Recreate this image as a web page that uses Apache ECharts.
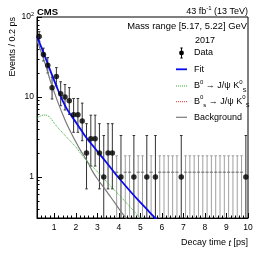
<!DOCTYPE html>
<html><head><meta charset="utf-8">
<script src="https://cdn.jsdelivr.net/npm/echarts@6/dist/echarts.min.js"></script>
<style>html,body{margin:0;padding:0;background:#fff}#c{width:266px;height:255px}</style>
</head><body><div id="c"></div>
<script>
// ---- data ----
const binCenters = [0.3,0.5,0.7,0.9,1.1,1.3,1.5,1.7,1.9,2.1,2.3,2.5,2.7,2.9,3.1,3.3,3.5,3.7,3.9,4.1,4.3,4.5,4.7,4.9,5.1,5.3,5.5,5.7,5.9,6.1,6.3,6.5,6.7,6.9,7.1,7.3,7.5,7.7,7.9,8.1,8.3,8.5,8.7,8.9,9.1,9.3,9.5,9.7,9.9];
const counts = [57,34,25,13,18,11,10,9,6,6,5,2,3,3,2,1,2,2,0,1,0,0,1,0,0,1,0,1,0,0,0,0,0,1,0,0,0,0,0,0,0,0,0,0,0,0,0,0,1];
const intervalLow  = {0:0, 1:0.17, 2:0.71, 3:1.37, 5:2.84, 6:3.62, 9:6.06, 10:6.89, 11:7.78, 13:9.44, 18:13.8, 25:20.0, 34:28.2, 57:49.6};
const intervalHigh = {0:1.84, 1:3.30, 2:4.64, 3:5.92, 5:8.38, 6:9.58, 9:13.1, 10:14.3, 11:15.5, 13:17.7, 18:23.3, 25:31.1, 34:40.8, 57:65.6};
const zeroMark = 1.148;

const fitX = [0.2,0.4,0.6,0.8,1.0,1.2,1.4,1.6,1.8,2.0,2.2,2.4,2.6,2.8,3.0,3.4,3.8,4.2,4.6,5.0,5.4,5.8,6.2];
const fitY = [57,42,30.5,22,16,11.8,8.9,7.0,5.8,4.85,4.05,3.35,2.85,2.45,2.1,1.55,1.13,0.84,0.63,0.48,0.37,0.285,0.22];

const b0X = [0.2,0.4,0.6,0.8,1.0,1.2,1.4,1.6,1.8,2.0,2.4,2.8,3.2,3.6,4.0,4.4,4.8,5.2,5.6];
const b0Y = [5.4,5.85,5.95,5.55,4.7,4.05,3.55,3.1,2.72,2.38,1.72,1.33,1.02,0.78,0.6,0.46,0.35,0.27,0.21];

const bgX = [0.2,0.4,0.6,0.8,1.0,1.2,1.4,1.6,1.8,2.0,2.2,2.4,2.6,2.8,3.0,3.4,3.8,4.2,4.6,5.0];
const bgY = [51,36,25,16.5,11.5,8.2,6.0,4.5,3.5,2.75,2.2,1.8,1.45,1.15,0.95,0.68,0.48,0.34,0.25,0.19];

const xTickLabels = [1,2,3,4,5,6,7,8,9,10];
const yTickLabels = [1,10,100];
const yMinorTicks = [0.4,0.5,0.6,0.7,0.8,0.9,2,3,4,5,6,7,8,9,20,30,40,50,60,70,80,90];

const xMin = 0.2, xMax = 10, yMin = 0.307, yMax = 100;
const FONT = '"Liberation Sans", Arial, sans-serif';

const xMinorTicks = [];
for (let k = 2; k < 50; k++) { if (k % 5 !== 0) xMinorTicks.push(+(k * 0.2).toFixed(1)); }

const chart = echarts.init(document.getElementById('c'), null, {renderer: 'canvas'});

function errRender(params, api) {
  const i = params.dataIndex;
  const x = binCenters[i], n = counts[i];
  const loRaw = intervalLow[n], hiRaw = intervalHigh[n];
  const lo = Math.max(loRaw, yMin), hi = Math.min(hiRaw, yMax);
  const p1 = api.coord([x, lo]), p2 = api.coord([x, hi]);
  const col = n > 0 ? '#333' : '#a0a0a0';
  const ch = [
    {type: 'line', shape: {x1: p1[0], y1: p1[1], x2: p2[0], y2: p2[1]}, style: {stroke: col, lineWidth: 1}},
    {type: 'line', shape: {x1: p2[0] - 1.3, y1: p2[1], x2: p2[0] + 1.3, y2: p2[1]}, style: {stroke: col, lineWidth: 1}}
  ];
  if (loRaw > yMin) ch.push({type: 'line', shape: {x1: p1[0] - 1.3, y1: p1[1], x2: p1[0] + 1.3, y2: p1[1]}, style: {stroke: col, lineWidth: 1}});
  if (n === 0) {
    const pm = api.coord([x, zeroMark]);
    ch.push({type: 'line', shape: {x1: pm[0] - 1.6, y1: pm[1], x2: pm[0] + 1.6, y2: pm[1]}, style: {stroke: '#666', lineWidth: 1}});
  }
  return {type: 'group', children: ch};
}

const axisCommon = {
  min: xMin, max: xMax, position: 'bottom',
  axisLine: {show: true, lineStyle: {color: '#000', width: 1}},
  splitLine: {show: false}
};

const legendY = {mass: 26, year: 40.7, data: 53, fit: 69.3, b0: 86, bs: 101.7, bg: 117.3};
const symX1 = 176, symX2 = 187, txtX = 194;
const richLeg = {
  n: {fontSize: 9, fontFamily: FONT, color: '#000', lineHeight: 14},
  sup: {fontSize: 6, fontFamily: FONT, color: '#000', lineHeight: 6, verticalAlign: 'top'},
  sub: {fontSize: 6, fontFamily: FONT, color: '#000', lineHeight: 6, verticalAlign: 'bottom'}
};
function legText(y, text) {
  return {type: 'text', x: txtX, y: y, style: {text: text, rich: richLeg, textAlign: 'left', textVerticalAlign: 'middle', font: '9px ' + FONT, fill: '#000'}};
}

const option = {
  animation: false,
  backgroundColor: '#fff',
  grid: {left: 37, top: 17, width: 211, height: 201, show: true, borderColor: '#000', borderWidth: 1, backgroundColor: 'transparent'},
  xAxis: [
    Object.assign({}, axisCommon, {
      type: 'value',
      axisTick: {show: true, inside: true, length: 5, customValues: xTickLabels, lineStyle: {color: '#000'}},
      axisLabel: {show: true, customValues: xTickLabels, margin: 5, fontSize: 8.5, fontFamily: FONT, color: '#000'}
    }),
    Object.assign({}, axisCommon, {
      type: 'value',
      axisLine: {show: false},
      axisTick: {show: true, inside: true, length: 2.5, customValues: xMinorTicks, lineStyle: {color: '#000'}},
      axisLabel: {show: false}
    })
  ],
  yAxis: [
    {
      type: 'log', logBase: 10, min: yMin, max: yMax, position: 'left',
      axisLine: {show: true, lineStyle: {color: '#000'}},
      splitLine: {show: false},
      axisTick: {show: true, inside: true, length: 5, customValues: yTickLabels, lineStyle: {color: '#000'}},
      axisLabel: {
        show: true, customValues: yTickLabels, margin: 3, fontSize: 8.5, fontFamily: FONT, color: '#000',
        formatter: function (v) { return Math.abs(v - 100) < 1e-6 ? '{m|10}{s|2}' : '{m|' + Math.round(v) + '}'; },
        rich: {
          m: {fontSize: 8.5, fontFamily: FONT, color: '#000', lineHeight: 12},
          s: {fontSize: 5.5, fontFamily: FONT, color: '#000', lineHeight: 6, verticalAlign: 'top'}
        }
      }
    },
    {
      type: 'log', logBase: 10, min: yMin, max: yMax, position: 'left',
      axisLine: {show: false}, splitLine: {show: false},
      axisTick: {show: true, inside: true, length: 2.5, customValues: yMinorTicks, lineStyle: {color: '#000'}},
      axisLabel: {show: false}
    }
  ],
  series: [
    {
      type: 'custom', xAxisIndex: 0, yAxisIndex: 0, clip: true, z: 2,
      data: binCenters.map((x, i) => [x, intervalHigh[counts[i]]]),
      encode: {x: 0, y: 1},
      renderItem: errRender
    },
    {
      type: 'line', xAxisIndex: 0, yAxisIndex: 0, z: 3, showSymbol: false, smooth: 0.3, clip: true,
      data: bgX.map((x, i) => [x, bgY[i]]),
      lineStyle: {color: '#7a7a7a', width: 1.2}
    },
    {
      type: 'line', xAxisIndex: 0, yAxisIndex: 0, z: 3, showSymbol: false, smooth: 0.3, clip: true,
      data: b0X.map((x, i) => [x, b0Y[i]]),
      lineStyle: {color: '#35b035', width: 1, type: 'dotted'}
    },
    {
      type: 'line', xAxisIndex: 0, yAxisIndex: 0, z: 4, showSymbol: false, smooth: 0.3, clip: true,
      data: fitX.map((x, i) => [x, fitY[i]]),
      lineStyle: {color: '#0a0aee', width: 1.8}
    },
    {
      type: 'scatter', xAxisIndex: 0, yAxisIndex: 0, z: 5, symbol: 'circle', symbolSize: 5.5,
      data: binCenters.map((x, i) => [x, counts[i]]).filter(d => d[1] > 0),
      itemStyle: {color: '#000'}
    }
  ],
  graphic: [
    {type: 'text', x: 37, y: 12, style: {text: 'CMS', font: 'bold 9.5px ' + FONT, fill: '#000', textAlign: 'left', textVerticalAlign: 'middle'}},
    {type: 'text', x: 248, y: 12, style: {text: '{n|43 fb}{sup|-1}{n| (13 TeV)}', rich: richLeg, textAlign: 'right', textVerticalAlign: 'middle', font: '9px ' + FONT, fill: '#000'}},
    {type: 'text', x: 12.5, y: 17, rotation: Math.PI / 2, style: {text: 'Events / 0.2 ps', font: '9px ' + FONT, fill: '#000', textAlign: 'right', textVerticalAlign: 'middle'}},
    {type: 'text', x: 248, y: 243, style: {text: '{n|Decay time }{i|t}{n| [ps]}', rich: {n: {fontSize: 9, fontFamily: FONT, color: '#000'}, i: {fontSize: 9, fontFamily: FONT, fontStyle: 'italic', color: '#000'}}, textAlign: 'right', textVerticalAlign: 'middle', font: '9px ' + FONT}},
    {type: 'text', x: 247, y: legendY.mass, style: {text: 'Mass range [5.17, 5.22] GeV', font: '9.4px ' + FONT, fill: '#000', textAlign: 'right', textVerticalAlign: 'middle'}},
    {type: 'text', x: 195, y: legendY.year, style: {text: '2017', font: '9px ' + FONT, fill: '#000', textAlign: 'left', textVerticalAlign: 'middle'}},
    {type: 'line', shape: {x1: 181.5, y1: legendY.data - 5, x2: 181.5, y2: legendY.data + 5}, style: {stroke: '#000', lineWidth: 1}},
    {type: 'line', shape: {x1: 180.3, y1: legendY.data - 5, x2: 182.7, y2: legendY.data - 5}, style: {stroke: '#000', lineWidth: 1}},
    {type: 'line', shape: {x1: 180.3, y1: legendY.data + 5, x2: 182.7, y2: legendY.data + 5}, style: {stroke: '#000', lineWidth: 1}},
    {type: 'circle', shape: {cx: 181.5, cy: legendY.data, r: 2.4}, style: {fill: '#000'}},
    legText(legendY.data, '{n|Data}'),
    {type: 'line', shape: {x1: symX1, y1: legendY.fit, x2: symX2, y2: legendY.fit}, style: {stroke: '#0a0aee', lineWidth: 1.8}},
    legText(legendY.fit, '{n|Fit}'),
    {type: 'line', shape: {x1: symX1, y1: legendY.b0, x2: symX2, y2: legendY.b0}, style: {stroke: '#35b035', lineWidth: 1, lineDash: [1, 1]}},
    legText(legendY.b0, '{n|B}{sup|0}{n| → J/ψ K}{sup|0}{sub|S}'),
    {type: 'line', shape: {x1: symX1, y1: legendY.bs, x2: symX2, y2: legendY.bs}, style: {stroke: '#e83030', lineWidth: 1, lineDash: [1, 1]}},
    legText(legendY.bs, '{n|B}{sup|0}{sub|s}{n| → J/ψ K}{sup|0}{sub|S}'),
    {type: 'line', shape: {x1: symX1, y1: legendY.bg, x2: symX2, y2: legendY.bg}, style: {stroke: '#7a7a7a', lineWidth: 1.2}},
    legText(legendY.bg, '{n|Background}')
  ]
};
chart.setOption(option);
</script>
</body></html>
